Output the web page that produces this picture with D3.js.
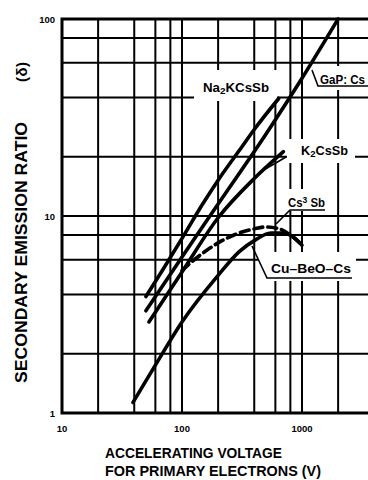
<!DOCTYPE html>
<html>
<head>
<meta charset="utf-8">
<script src="https://cdn.jsdelivr.net/npm/d3@7"></script>
<style>
  html, body { margin: 0; padding: 0; background: #fff; }
  svg { display: block; }
  text { font-family: "Liberation Sans", Arial, sans-serif; font-weight: bold; fill: #000; }
</style>
</head>
<body>
<svg id="chart" width="368" height="480"></svg>
<script>
// Secondary emission ratio of dynode materials vs. accelerating voltage
const xTickLabels = [10, 100, 1000];
const yTickLabels = [1, 10, 100];
const xGridValues = [10, 20, 40, 60, 80, 100, 200, 400, 600, 800, 1000, 2000, 4000, 6000, 8000, 10000];
const yGridValues = [1, 2, 4, 6, 8, 10, 20, 40, 60, 80, 100];

const na2kcssbVolts = [50, 70, 100, 150, 200, 300, 400, 640];
const na2kcssbRatio = [3.9, 5.4, 7.7, 11.6, 15.2, 21.5, 27.5, 39.5];

const gapVolts = [50, 100, 200, 500, 1000, 2000];
const gapRatio = [3.3, 6.2, 11.5, 26, 50, 100];

const k2cssbVolts = [53, 100, 200, 400, 700];
const k2cssbRatio = [2.9, 5.2, 9.8, 15.5, 21.2];

const cs3sbVolts = [100, 150, 200, 300, 400, 500, 650, 800, 960];
const cs3sbRatio = [5.3, 6.5, 7.3, 8.2, 8.6, 8.8, 8.6, 8.0, 7.3];

const cuBeoVolts = [39, 60, 100, 200, 300, 400, 550, 700, 850, 1000];
const cuBeoRatio = [1.13, 1.75, 2.9, 5.0, 6.6, 7.5, 8.2, 8.2, 7.8, 7.1];

const svg = d3.select("#chart");
const plot = { left: 62, top: 19, bottom: 413 };

const x = d3.scaleLog().domain([10, 10000]).range([plot.left, plot.left + 360]);
const y = d3.scaleLog().domain([1, 100]).range([plot.bottom, plot.top]);
const W = 368;

// grid
const grid = svg.append("g").attr("stroke", "#000").attr("stroke-width", 2);
grid.selectAll("line.v").data(xGridValues).join("line")
  .attr("x1", d => x(d)).attr("x2", d => x(d))
  .attr("y1", plot.top).attr("y2", plot.bottom);
grid.selectAll("line.h").data(yGridValues).join("line")
  .attr("x1", plot.left).attr("x2", W)
  .attr("y1", d => y(d)).attr("y2", d => y(d));

// white boxes behind the curve labels
const boxes = [
  [194, 70, 83, 31],
  [316, 66, 52, 24],
  [287, 139, 68, 24],
  [286, 189, 42, 22],
  [258, 252, 98, 29]
];
svg.append("g").selectAll("rect").data(boxes).join("rect")
  .attr("x", d => d[0]).attr("y", d => d[1])
  .attr("width", d => d[2]).attr("height", d => d[3])
  .attr("fill", "#fff");

// frame (left, top, bottom)
const frame = svg.append("g").attr("stroke", "#000").attr("stroke-width", 3).attr("fill", "none");
frame.append("path").attr("d", `M${W},${plot.top}H${plot.left}V${plot.bottom}H${W}`);

// curves
const line = d3.line().x(d => x(d[0])).y(d => y(d[1])).curve(d3.curveMonotoneX);
const zip = (a, b) => a.map((v, i) => [v, b[i]]);
const series = [
  { pts: zip(na2kcssbVolts, na2kcssbRatio), dash: null },
  { pts: zip(gapVolts, gapRatio), dash: null },
  { pts: zip(k2cssbVolts, k2cssbRatio), dash: null },
  { pts: zip(cs3sbVolts, cs3sbRatio), dash: "9,5" },
  { pts: zip(cuBeoVolts, cuBeoRatio), dash: null }
];
svg.append("g").selectAll("path").data(series).join("path")
  .attr("d", d => line(d.pts))
  .attr("fill", "none").attr("stroke", "#000").attr("stroke-width", 3.6)
  .attr("stroke-linecap", "round")
  .attr("stroke-dasharray", d => d.dash);

// leader lines
const leaders = [
  [[312, 70], [318, 86], [368, 86]],
  [[286, 157], [262, 171]],
  [[276, 224], [290, 210], [325, 210]],
  [[252, 246], [267, 278], [352, 278]]
];
svg.append("g").selectAll("path").data(leaders).join("path")
  .attr("d", d => d3.line()(d))
  .attr("fill", "none").attr("stroke", "#000").attr("stroke-width", 1.6);

// curve labels
function label(xp, yp, parts, size, len) {
  const t = svg.append("text").attr("x", xp).attr("y", yp).attr("font-size", size)
    .attr("textLength", len).attr("lengthAdjust", "spacingAndGlyphs");
  parts.forEach(p => {
    const s = t.append("tspan").text(p[0]);
    if (p[1] === "sub") s.attr("font-size", size * 0.75).attr("dy", 2);
    if (p[1] === "sup") s.attr("font-size", size * 0.75).attr("dy", -4);
    if (p[1] === "back") s.attr("dy", p[2]);
  });
}
label(203, 92, [["Na"], ["2", "sub"], ["KCsSb", "back", -2]], 13, 66);
label(320, 84, [["GaP: Cs"]], 12, 45);
label(301, 155, [["K"], ["2", "sub"], ["CsSb", "back", -2]], 13, 47);
label(288, 207, [["Cs"], ["3", "sup"], [" Sb", "back", 4]], 12, 37);
label(271, 273, [["Cu–BeO–Cs"]], 12, 80);

// tick labels
svg.append("g").selectAll("text").data(yTickLabels).join("text")
  .attr("x", 55).attr("y", d => y(d) + 4)
  .attr("text-anchor", "end").attr("font-size", 9.5)
  .text(d => d);
svg.append("g").selectAll("text").data(xTickLabels).join("text")
  .attr("x", d => x(d)).attr("y", 432)
  .attr("text-anchor", "middle").attr("font-size", 9.5)
  .text(d => d);

// axis titles
svg.append("text").attr("x", 105).attr("y", 458).attr("font-size", 15.5)
  .attr("textLength", 177).attr("lengthAdjust", "spacingAndGlyphs")
  .text("ACCELERATING VOLTAGE");
svg.append("text").attr("x", 105).attr("y", 476).attr("font-size", 15.5)
  .attr("textLength", 216).attr("lengthAdjust", "spacingAndGlyphs")
  .text("FOR PRIMARY ELECTRONS  (V)");

svg.append("text").attr("transform", "translate(27,383) rotate(-90)")
  .attr("font-size", 17).attr("textLength", 261).attr("lengthAdjust", "spacingAndGlyphs")
  .text("SECONDARY EMISSION RATIO");
svg.append("text").attr("transform", "translate(27,82) rotate(-90)")
  .attr("font-size", 15).attr("textLength", 20).attr("lengthAdjust", "spacing")
  .text("(δ)");
</script>
</body>
</html>
